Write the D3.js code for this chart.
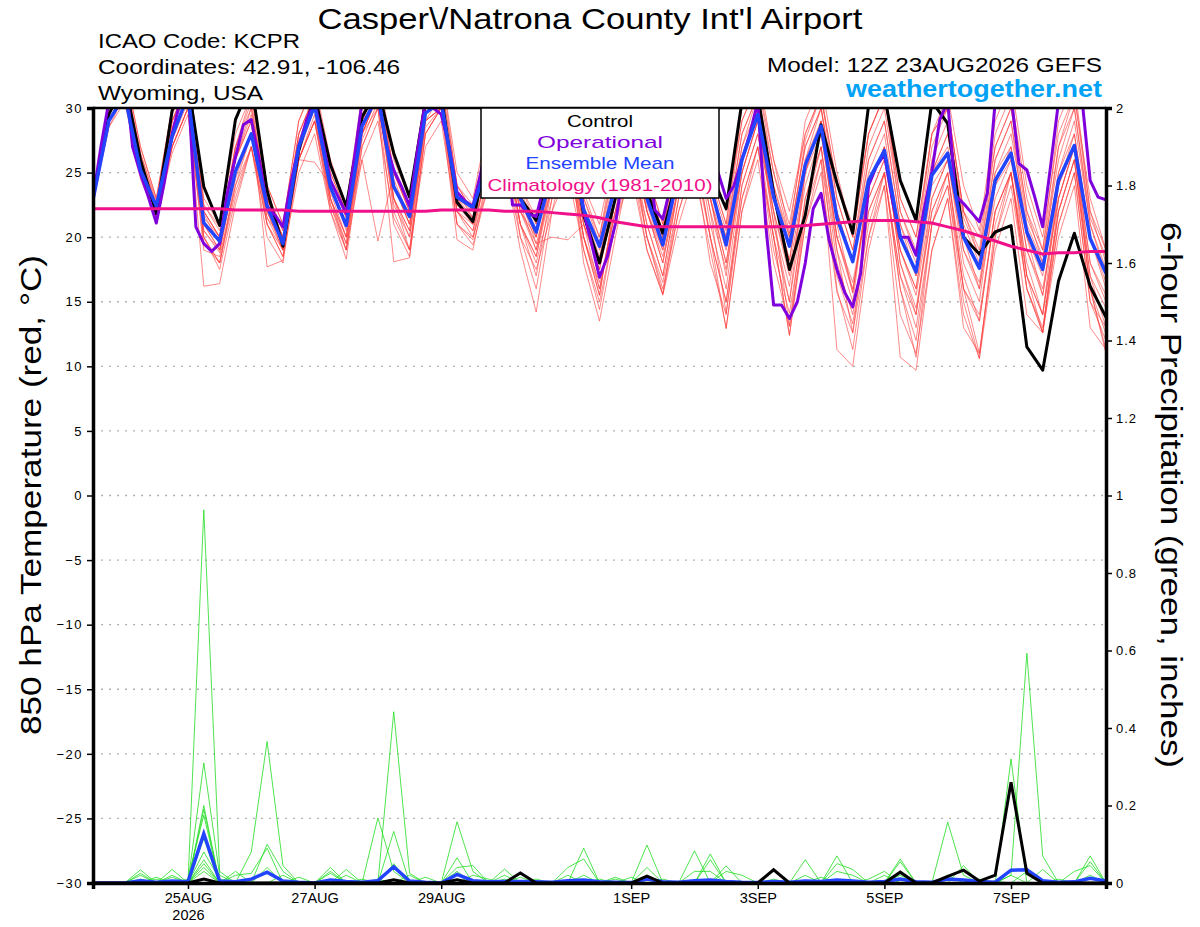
<!DOCTYPE html>
<html><head><meta charset="utf-8">
<script src="https://cdn.jsdelivr.net/npm/d3@7"></script>
<style>body{margin:0;background:#fff;} svg{display:block;font-family:"Liberation Sans",Arial,Helvetica,sans-serif;}</style>
</head><body><svg id="c" width="1200" height="927"></svg>
<script>
// ---------- DATA ----------
const startTime = Date.UTC(2026, 7, 23, 12); // 12Z 23AUG2026
const tempTicks = [-30,-25,-20,-15,-10,-5,0,5,10,15,20,25,30];
const precipTicks = [0,0.2,0.4,0.6,0.8,1,1.2,1.4,1.6,1.8,2];
const dateTicks = [Date.UTC(2026,7,25),Date.UTC(2026,7,27),Date.UTC(2026,7,29),Date.UTC(2026,8,1),Date.UTC(2026,8,3),Date.UTC(2026,8,5),Date.UTC(2026,8,7)];
const dateLabels = ["25AUG","27AUG","29AUG","1SEP","3SEP","5SEP","7SEP"];

const controlTemp = [23.0,29.5,32,26.0,21.8,29.8,32,23.9,20.9,29.1,32,23.6,19.3,
 26.7,31,25.6,22.4,29.3,31.5,26.5,23.1,30.5,31,22.7,21.2,27,
 30,23.0,21.3,26,29.5,21.7,18.0,23,28.5,23.5,20.3,25,29,
 25,22.2,30.5,31,23.4,17.5,21.7,28.7,24.2,20.3,30.2,31,24.4,
 21.3,30.5,28.8,20.0,18.7,20.4,20.9,11.5,9.7,16.6,20.3,16.2,13.8];
const meanTemp = [22.9,29.0,31,25.2,22.4,27.8,31,21.1,19.7,25.1,28.0,22.4,19.5,
 27.0,30.2,23.9,20.9,28.6,31,23.9,21.6,29.6,30.5,23.1,22.3,26,
 28,23,20.4,25,28,22.1,19.3,24,28,23,19.4,25,28,
 24,19.4,26,29.5,23.1,19.3,25.6,28.6,21.5,18.1,24.4,26.7,20.0,
 17.3,24.8,26.5,20.0,17.6,24.4,26.5,20.4,17.5,24.4,27.1,19.9,17.2];
const climTemp = [22.2,22.2,22.2,22.2,22.2,22.2,22.2,22.2,22.2,22.1,22.1,22.1,22.1,
 22.0,22.0,22.0,22.0,22.0,22.0,22.0,22.0,22.0,22.1,22.1,22.1,22.1,
 22.0,22.0,22.0,21.9,21.8,21.7,21.5,21.2,21.0,20.8,20.8,20.8,20.8,
 20.8,20.8,20.8,20.8,20.8,20.8,20.9,21.0,21.1,21.2,21.3,21.3,21.3,
 21.2,21.1,20.8,20.5,20.1,19.7,19.3,19.0,18.7,18.8,18.8,18.9,18.9];
// operational run, 3-hourly (129 values)
const operTemp = [23.0,27.0,30.5,32,33,27.0,24.9,23.1,21.1,24.2,28.0,30.5,32,20.8,19.5,18.9,19.5,23.5,26.2,28.7,29.1,26,22.4,21.7,20.8,
 24.2,27.0,29.1,30.5,27.5,24.4,23.1,21.8,26,30.5,31,31,27.3,25.2,23.9,22.4,26.7,30.5,30,29.5,27,23.5,22.8,22.4,25,
 28,29,30,22.5,22.5,21.8,21.6,24,27,29,30,27,22,19.5,16.9,18.5,21,25,28,29,27,22.1,21.4,24,27,
 29,30,29,27,25,23,24,26,28,30.5,21,14.75,14.75,13.7,15.0,18.0,22.2,23.4,19.8,17.5,15.7,14.6,17.2,24.0,25.5,
 26.4,22.9,20.0,20.0,18.6,22.1,25.1,29.1,30.5,23.2,22.6,21.9,21.2,23.4,30.5,31,31,25.7,25.2,23.1,20.8,25.5,30.5,31,31,30.5,24.4,23.1,22.9];

const memberTemp1 = [23.0,30.5,33,27,23,30,33,22.5,20.5,27,31,24,21,29,32,25,22,30,33,25,22.5,31,33,24,22.5,28,31,24,21.5,27,31,24,21,27,31,25,21,28,31,26,22,29,32,26,22,28,31,24,21,28,31,23,20,28,30,22,20,27,30,22,19,27,31,22,19];
const memberTemp2 = [22.7,29,31,25,22,27,30,16.2,16.4,22.5,27,22,19,26,29,24,20.5,28,30,24,21,29,30,22,21,25,27,22,19.5,24,27,21,18,23,27,22,18.5,24,27,23,18,25,29,22,17,24,28,20,16,23,26,19,15.5,23,26,19,16,23,26,19,15.5,23,27,18,15];
const memberTemp3 = [23,29.5,32,26,22.5,28,32,21,19,26,29,17.7,18.2,27,31,23,19.5,28,31,23,20,29,31,21,19.4,24,26,19,14.2,22,27,21,17.5,24,29,22,18,25,29,23,17,26,30,21,16.2,25,29,20,15.7,24,27,18,14.5,22,25,17,13.5,22,25,18,14,22,26,17,13];
const memberTemp4 = [22.8,29,31.5,25.5,22,28,31,22,20,26,29,23,20,26,25.8,24,21,26,19.7,25,22,30,31,23,22,27,29,22,20,26,28,18,13.5,20,26,21,17,24,28,22,14.1,24,28,22,13.1,23,27,19,12.6,22,25,16,10.7,21,24,15,10.6,21,25,17,12.6,23,27,16,11.3];
const memberTemp5 = [23,30,32,26,22,29,31,21,19,25,28,22,19.5,27,30,23,20,28,31,23,20.5,29,30,22,20,26,28,21,18.5,25,28,20,15.5,23,27,20,15.6,23,27,20,12.9,22,27,20,12.4,21,26,11.3,10.0,19,24,10.7,9.7,19,23,13,11,20,24,16,13,21,25,15,12];
const memberTemp6 = [22.9,29,31,25,22.5,28,31,20.5,18.8,25,28,21.5,19.8,27,30,23.5,20,29,31,23,19,29,30,23,21,27,29,23,19.5,20,19.8,21,16,22,28,22,19,25,29,23,18,26,30,23,18.2,26,29,21,15.7,24,27,19,16,25,27,20,16,25,27,20,15.5,24,28,20,16];
const memberTemp7 = [23,30,33,27,23,30,33,23,21,29,32,24,21,29,32,26,22.5,31,33,26,23,31,33,25,23,29,31,24,21,28,31,23,20,27,31,25,21,28,31,25,21,30,33,26,20.3,29,32,25,20,28,31,22,19,28,30,22,19,28,31,23,19,29,32,22,18];
const memberTemp8 = [22.8,29,31,25,21.5,27,30,19,18.5,24,27,21,19,26,29,22,18.3,27,30,18.1,18.4,28,30,21,19.8,25,28,21,17,24,27,19,14.4,21,26,19,15.6,22,26,18,14,23,27,19,14.1,22,26,17,13.3,21,25,17,14,22,25,16,13.5,22,25,16,12.6,21,25,15,13];
const memberTemp9 = [22.9,29.5,32,26,22,29,32,21.5,20,27,30,23,20.5,28,31,24.5,21.5,29,32,24,21,30,31,23.5,21.5,27,30,23,20,26,29,22,18.5,24,29,23,20,26,30,24,20,27,31,24,20,27,30,22,18.2,25,28,20,17,25,28,21,18,25,28,21,18,25,29,21,17];
const memberTemp10 = [23,29,31,25,21,27,30,20,17.5,23,27,20,18,26,29,23,19,28,31,22,19,28,30,22,20.5,26,28,20,16,23,26,20,15.5,23,27,21,17,24,28,21,16,25,29,21,15,25,29,19,15,24,27,18,14,23,26,18,15,24,27,17,14,24,27,17,14.5];
const memberTemp11 = [23,30,32,26.5,22.5,29,32,22,20,26,30,23,20,27,30,24,21,29,32,24.5,21.5,30,32,24,22,28,30,23,20.5,27,30,23,19.5,26,30,24,20.5,27,30,25,21,29,32,25,21,28,31,24,20,28,31,23,20,28,31,24,20.5,29,32,24,20,28,31,23,19];
const memberTemp12 = [22.7,28.5,31,25,22,27.5,31,20,18,24,28,21,18.5,26,29,22.5,19,27,30,21,18.5,28,30,19.8,19,25,27,21,18.5,24,27,20,16,22,27,20,16.5,23,27,20,15,24,28,20,12.4,22,27,16,11.3,20,25,16,12,21,25,16,11,20,25,16,12.6,22,26,16,11];
const memberTemp13 = [22.8,29,31,25,22,27,30,20.5,19,25,28,22,19,26.5,30,23,20,28,31,23,20.5,29,30,22.5,21.5,26,28,22,19,24,28,21,17.5,23,28,22,18,24,28,22,17.5,25,29,22,17.5,25,28,20,16.5,23,26,19,16,24,26,19,16.5,24,26,19,16,23,27,18,15.5];
const memberTemp14 = [23.1,30,32.5,26.5,22.8,29.5,32.5,22.5,20.8,28,31,23.5,20.5,28,31,25,22,30,32,25,22,30.5,32,24,22,28,30,23.5,21,27,30,23.5,20,26,30,24,20.5,27,30,24.5,20.5,28,31,25,20,27,30,23,19,26,29,21,18,26,29,21.5,18.5,26,29,21.5,18.5,26,30,21.5,18.5];
const memberTemp15 = [22.8,28.5,30.5,24.5,21.5,26.5,29.5,19.5,18,23.5,27,21,18.5,25,28,22,19,26,29,21.5,19,27,29,21,20,24,26,20,17.5,22,25,19,15,21,25,19,15.5,21,25,19,13,22,26,18,13.1,21,25,15.7,12.6,20,24,14,11,19,23,14,10.6,19,23,14,12.6,20,24,13,11.3];
const memberTemp16 = [23,29.5,31.5,25.5,22.2,28.5,31.5,21.8,19.5,26,29.5,22.5,20,27.5,30.5,24,21,28.5,31.5,24,21,29.5,31,22.5,21,27,29.5,22.5,19,25,29,22,18,25,29,22.5,19,26,29,23,19,27,30,23,18.2,26,30,22,18,26,29,21,17,25,28,20,17.5,26,29,20,17,25,28,20,16.5];
const memberTemp17 = [22.9,29,31,25,22,27.5,30.5,20,18,24.5,28,21.5,19,26,29.5,22.5,19.5,27.5,30.5,22.5,20,28.5,30,22,20.5,25.5,27.5,21,18,23,27,20,16.5,22,26,20,16,22,26,20,15,23,27,20,15,23,27,18,14,22,25,17,13,21,24,16,14,22,25,17,14,22,26,16,12.5];
const memberTemp18 = [23,30,32,26,22.5,29,32,22,20,27,30.5,23,20,28,31,24.5,21.5,29.5,32,25,22,30,31.5,23,21.5,27.5,30,23,20,26.5,30,22.5,19,25.5,30,23.5,20,26.5,30,24,20,28,31,24,19.5,27.5,31,23,19,27,30,22,18.5,27,30,22,18.5,27,30,22,18,27,30,21,17.5];

const controlPrecip = [0,0,0,0,0,0,0,.01,0,0,0,0,0,
 0,0,0,0,0,0,.008,0,0,0,.008,0,0,
 0,.026,0,0,0,0,0,0,0,.018,0,0,0,
 0,0,0,0,.034,0,0,0,0,0,0,0,.028,
 0,0,.017,.033,.005,.02,.26,.025,0,0,0,0,0];
const meanPrecip = [0,0,0,.006,.002,.005,.003,.127,.005,.003,.01,.028,.005,
 .002,0,.008,.004,.002,.006,.042,.005,.002,0,.022,.006,.003,
 .004,.004,.003,.002,.006,.008,.003,.002,.001,.01,.003,.002,.006,
 .008,.004,.002,.001,.004,.002,.005,.004,.008,.005,.002,.004,.01,
 .003,.002,.01,.008,.004,.002,.033,.034,.006,.002,.003,.012,.005];
const memberPrecip1 = [0,0,0,.034,0,.02,0,.963,.03,0,0,.04,0, 0,0,.04,0,0,0,.05,0,0,0,.158,.03,0, 0,0,0,0,0,.09,0,0,0,.04,0,0,0, .075,0,0,0,0,0,.06,0,.07,0,0,0,.062, 0,0,.157,.02,0,0,.02,.593,.07,0,0,.07,0];
const memberPrecip2 = [0,0,0,.025,0,.035,0,.31,.02,0,.08,.365,.045, 0,0,0,.035,0,.168,.03,0,0,0,.065,0,0, .036,0,0,0,.04,.062,0,0,0,.098,0,0,.083, 0,.044,0,0,0,0,0,0,.05,.035,0,0,.055, 0,0,0,.045,0,0,0,0,.035,0,0,.055,0];
const memberPrecip3 = [0,0,0,0,.015,0,0,.20,0,.03,0,.10,.03, 0,0,.03,0,0,0,.442,.025,0,0,.04,.045,0, 0,.015,0,0,0,.02,0,0,0,.02,0,0,0, .06,0,0,0,0,0,.02,0,0,0,0,.02,0, 0,0,.02,0,0,0,.32,0,0,0,.03,.045,0];
const memberPrecip4 = [0,0,0,.02,0,.015,0,.19,0,.02,.025,.09,0, .015,0,0,.02,0,0,.133,0,.015,0,.03,0,0, .02,0,0,0,.02,0,0,.015,0,0,0,0,.03, .03,0,0,0,0,0,0,0,.03,.02,0,0,.02, 0,0,0,0,0,0,0,.03,0,0,0,.02,0];
const memberPrecip5 = [0,0,0,0,.01,0,.01,.175,0,0,0,0,.02, 0,0,.025,0,0,.01,0,.02,0,0,0,.02,.01, 0,0,0,0,0,0,.01,0,.015,0,.01,0,0, 0,.03,.02,0,0,0,0,.015,0,0,.01,.03,0, 0,0,0,0,.01,0,0,0,0,.01,0,0,0];
const memberPrecip6 = [0,0,0,.01,0,0,0,.115,0,0,0,0,0, 0,0,0,0,.01,0,0,0,0,0,0,0,0, 0,0,.01,0,0,0,0,.01,0,0,0,0,0, 0,0,0,0,.01,0,0,0,0,0,0,0,0, .005,0,0,0,0,.005,0,0,0,0,0,0,.003];
const memberPrecip7 = [0,0,0,0,0,0,0,.08,.01,0,0,0,0, 0,0,0,0,0,0,0,0,0,0,0,0,0, 0,0,0,0,0,0,0,0,0,0,0,0,0, 0,0,0,0,0,0,0,0,0,0,0,0,0, 0,0,0,0,0,0,.02,0,0,0,0,0,0];
const memberPrecip8 = [0,0,0,0,0,0,0,.06,0,0,0,0,0, 0,0,0,0,0,0,0,0,0,0,0,0,0, .01,0,0,0,0,0,0,0,0,0,0,0,0, 0,0,0,0,0,0,0,0,0,0,0,0,0, 0,0,0,0,0,0,0,0,0,0,0,0,0];
const memberPrecip9 = [0,0,0,0,0,0,0,.05,0,0,0,0,0, 0,0,0,0,0,0,0,0,0,0,0,0,0, 0,0,0,0,0,0,0,0,0,0,0,0,0, 0,0,0,0,0,0,0,0,0,0,0,0,0, 0,0,0,0,0,0,0,0,0,0,0,0,0];
const memberPrecip10 = [0,0,0,0,0,0,0,.04,0,0,0,0,0, 0,0,0,0,0,0,0,0,0,0,0,0,0, 0,0,0,0,0,0,0,0,0,0,0,0,0, 0,0,0,0,0,0,0,0,0,0,0,0,0, 0,0,0,0,0,0,0,0,0,0,0,0,0];
const memberPrecip11 = [0,0,0,0,0,0,0,.03,0,0,0,0,0, 0,0,0,0,0,0,0,0,0,0,0,0,0, 0,0,0,0,0,0,0,0,0,0,0,0,0, 0,0,0,0,0,0,0,0,0,0,0,0,0, 0,0,0,0,0,0,0,0,0,0,0,0,0];

const memberTemps = [memberTemp1,memberTemp2,memberTemp3,memberTemp4,memberTemp5,memberTemp6,memberTemp7,memberTemp8,memberTemp9,
  memberTemp10,memberTemp11,memberTemp12,memberTemp13,memberTemp14,memberTemp15,memberTemp16,memberTemp17,memberTemp18];
const memberPrecips = [memberPrecip1,memberPrecip2,memberPrecip3,memberPrecip4,memberPrecip5,memberPrecip6,memberPrecip7,memberPrecip8,memberPrecip9,memberPrecip10,memberPrecip11];

// ---------- CHART ----------
const M = {l:93, r:1106, t:108, b:883};
const svg = d3.select('#c');
const t6 = d3.range(65).map(k => new Date(startTime + k*6*3600e3));
const t3 = d3.range(129).map(k => new Date(startTime + k*3*3600e3));
const x = d3.scaleUtc().domain([t6[0], t6[64]]).range([M.l, M.r]);
const yT = d3.scaleLinear().domain([-30,30]).range([M.b, M.t]);
const yP = d3.scaleLinear().domain([0,2]).range([M.b, M.t]);

svg.append('clipPath').attr('id','clip').append('rect')
  .attr('x',M.l).attr('y',M.t).attr('width',M.r-M.l).attr('height',M.b-M.t);

// grid
svg.append('g').selectAll('line').data(tempTicks.filter(v => v>-30 && v<30)).join('line')
  .attr('x1',M.l).attr('x2',M.r).attr('y1',d=>yT(d)).attr('y2',d=>yT(d))
  .attr('stroke','#b0b0b0').attr('stroke-width',1.3).attr('stroke-dasharray','2,6');

const plot = svg.append('g').attr('clip-path','url(#clip)');
const lineOf = (times, ys) => d3.line().x((d,k)=>x(times[k])).y(d=>ys(d));

memberTemps.forEach(m => plot.append('path').datum(m).attr('d', lineOf(t6,yT))
  .attr('fill','none').attr('stroke','#ff3a3a').attr('stroke-opacity',0.75).attr('stroke-width',0.8));
memberPrecips.forEach(m => plot.append('path').datum(m).attr('d', lineOf(t6,yP))
  .attr('fill','none').attr('stroke','#22dd22').attr('stroke-width',0.8));

plot.append('path').datum(meanPrecip).attr('d', lineOf(t6,yP)).attr('fill','none').attr('stroke','#2244ff').attr('stroke-width',3.5);
plot.append('path').datum(controlPrecip).attr('d', lineOf(t6,yP)).attr('fill','none').attr('stroke','#000').attr('stroke-width',3);
plot.append('path').datum(controlTemp).attr('d', lineOf(t6,yT)).attr('fill','none').attr('stroke','#000').attr('stroke-width',3).attr('stroke-linejoin','round');
plot.append('path').datum(operTemp).attr('d', lineOf(t3,yT)).attr('fill','none').attr('stroke','#8000dd').attr('stroke-width',3).attr('stroke-linejoin','round');
plot.append('path').datum(meanTemp).attr('d', lineOf(t6,yT)).attr('fill','none').attr('stroke','#2244ff').attr('stroke-width',3.5).attr('stroke-linejoin','round');
plot.append('path').datum(climTemp).attr('d', lineOf(t6,yT)).attr('fill','none').attr('stroke','#f0108a').attr('stroke-width',3);

// axes
const axL = svg.append('g').attr('transform',`translate(${M.l},0)`)
  .call(d3.axisLeft(yT).tickValues(tempTicks).tickSize(6).tickPadding(4).tickFormat(d3.format('d')));
const axR = svg.append('g').attr('transform',`translate(${M.r},0)`)
  .call(d3.axisRight(yP).tickValues(precipTicks).tickSize(6).tickPadding(4).tickFormat(d => d===0||d===1||d===2 ? String(d) : d3.format('.1f')(d)));
const axB = svg.append('g').attr('transform',`translate(0,${M.b})`)
  .call(d3.axisBottom(x).tickValues(dateTicks.map(d=>new Date(d))).tickSize(6).tickPadding(4).tickFormat((d,k)=>dateLabels[k]));
[axL,axR,axB].forEach(a => {
  a.selectAll('.domain').attr('stroke','#000').attr('stroke-width',3.5);
  a.selectAll('.tick line').attr('stroke','#000').attr('stroke-width',1.5);
});
axL.selectAll('.tick text').attr('font-size',13).attr('letter-spacing',1.5).attr('fill','#000');
axR.selectAll('.tick text').attr('font-size',13).attr('letter-spacing',1).attr('fill','#000');
axB.selectAll('.tick text').attr('font-size',14.5).attr('fill','#000');
axB.select('.tick text').append('tspan').attr('x',0).attr('dy','1.15em').text('2026');
// top border
svg.append('line').attr('x1',M.l).attr('x2',M.r).attr('y1',M.t).attr('y2',M.t).attr('stroke','#000').attr('stroke-width',2.5);

// legend
const lg = svg.append('g');
lg.append('rect').attr('x',481).attr('y',M.t).attr('width',238).attr('height',90).attr('fill','#fff').attr('stroke','#000').attr('stroke-width',1.5);
const legendItems = [["Control","#000",127,66],["Operational","#8000dd",148,126],["Ensemble Mean","#2244ff",169,149],["Climatology (1981-2010)","#f0108a",191,225]];
legendItems.forEach(([t,c,yy,w]) => lg.append('text').attr('x',600).attr('y',yy).attr('text-anchor','middle')
  .attr('font-size',17).attr('fill',c).attr('textLength',w).attr('lengthAdjust','spacingAndGlyphs').text(t));

// titles
const txt = (s,xx,yy,size,opts={}) => {
  const t = svg.append('text').attr('x',xx).attr('y',yy).attr('font-size',size).attr('fill',opts.fill||'#000').text(s);
  if (opts.anchor) t.attr('text-anchor',opts.anchor);
  if (opts.weight) t.attr('font-weight',opts.weight);
  if (opts.len) t.attr('textLength',opts.len).attr('lengthAdjust','spacingAndGlyphs');
  if (opts.rot) t.attr('transform',`rotate(${opts.rot},${xx},${yy})`);
  return t;
};
txt("Casper\\/Natrona County Int'l Airport", 590, 29, 29, {anchor:'middle', len:545});
txt("ICAO Code: KCPR", 98, 48, 21, {len:202});
txt("Coordinates: 42.91, -106.46", 98, 74, 21, {len:302});
txt("Wyoming, USA", 98, 100, 21, {len:165});
txt("Model: 12Z 23AUG2026 GEFS", 1102, 72, 21, {anchor:'end', len:335});
txt("weathertogether.net", 1102, 97, 24, {anchor:'end', len:256, weight:'bold', fill:'#00a2f5'});
txt("850 hPa Temperature (red, °C)", 41, 495, 30, {anchor:'middle', len:480, rot:-90});
txt("6-hour Precipitation (green, inches)", 1161, 495, 30, {anchor:'middle', len:546, rot:90});
</script></body></html>
